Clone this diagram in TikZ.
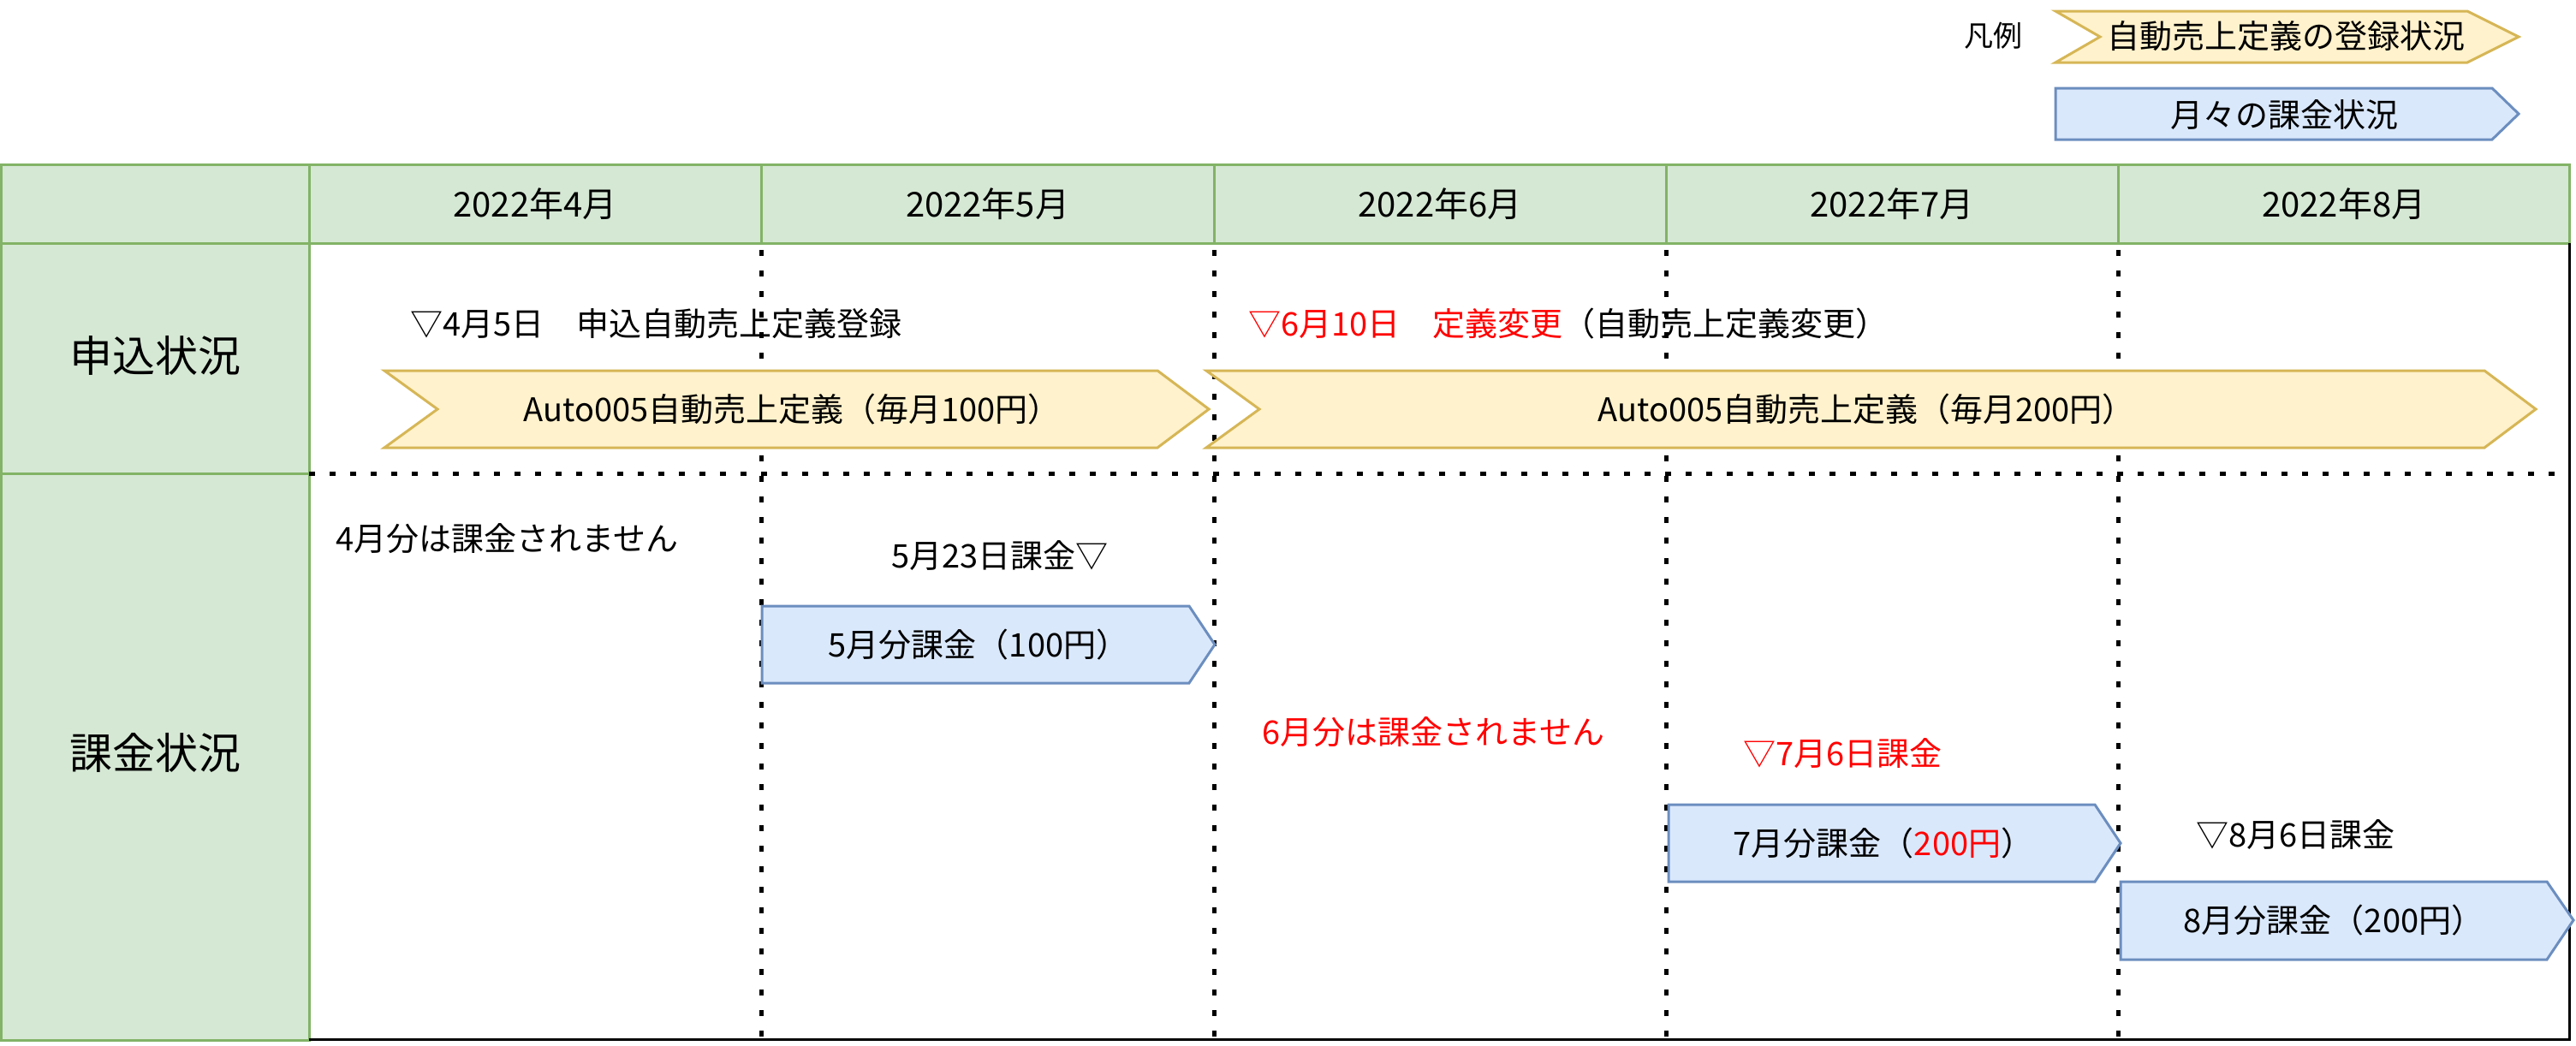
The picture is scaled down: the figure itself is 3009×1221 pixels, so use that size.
\documentclass[tikz,border=0pt]{standalone}
\usepackage{fontspec}
\newfontfamily\jp{Noto Sans CJK JP}
\definecolor{gfill}{HTML}{D5E8D4}
\definecolor{gline}{HTML}{82B366}
\definecolor{yfill}{HTML}{FFF2CC}
\definecolor{yline}{HTML}{D6B656}
\definecolor{bfill}{HTML}{DAE8FC}
\definecolor{bline}{HTML}{6C8EBF}
\definecolor{myred}{HTML}{FF0000}
\begin{document}
\begin{tikzpicture}[x=1pt,y=-1pt,
  cell/.style={draw=gline, fill=gfill, line width=3pt},
  yarrow/.style={draw=yline, fill=yfill, line width=3pt, line join=miter},
  barrow/.style={draw=bline, fill=bfill, line width=3pt, line join=miter},
  dotline/.style={line width=5pt, dash pattern=on 7pt off 17pt},
  txt/.style={font=\jp\fontsize{38}{46}\selectfont, inner sep=0pt},
  hdr/.style={font=\jp\fontsize{40}{48}\selectfont, inner sep=0pt},
  lbl/.style={font=\jp\fontsize{50}{60}\selectfont, inner sep=0pt},
]
\useasboundingbox (0,0) rectangle (3009,1221);
\fill[white] (0,0) rectangle (3009,1221);

% left column
\draw[cell] (1.5,284) rectangle (361,553);
\draw[cell] (1.5,553) rectangle (361,1215);
\node[lbl] (r1) at (181,415) {申込状況};
\node[lbl] (r2) at (181,879) {課金状況};

% header
\draw[cell] (1.5,192) rectangle (361,284);
\foreach \a/\b/\m [count=\i] in {361/889/4, 889/1418/5, 1418/1946/6, 1946/2474/7, 2474/3001.5/8} {
  \draw[cell] (\a,192) rectangle (\b,284);
  \node[hdr] (h\i) at ({(\a+\b)/2},238) {2022年\m{}月};
}

% dotted grid
\foreach \x in {889,1418,1946,2474} {
  \draw[dotline] (\x,292) -- (\x,1212);
}
\draw[dotline] (361,553) -- (3001,553);

% frame
\draw[line width=3pt] (361,1214) -- (3001.5,1214) -- (3001.5,284);

% legend
\node[txt, font=\jp\fontsize{34}{40}\selectfont] (lg) at (2328,42) {凡例};
\draw[yarrow] (2401,13) -- (2882,13) -- (2942,43) -- (2882,73) -- (2401,73) -- (2453,43) -- cycle;
\node[txt] (lg1) at (2670,42) {自動売上定義の登録状況};
\draw[barrow] (2401,103) -- (2911,103) -- (2942,133) -- (2911,163) -- (2401,163) -- cycle;
\node[txt] (lg2) at (2668,134) {月々の課金状況};

% 申込状況 row
\node[txt, anchor=west] (t1) at (479,378) {▽4月5日　申込自動売上定義登録};
\node[txt, anchor=west] (t2) at (1458,378) {\textcolor{myred}{▽6月10日　定義変更}（自動売上定義変更）};
\draw[yarrow] (449,433) -- (1352,433) -- (1412,478) -- (1352,523) -- (449,523) -- (511,478) -- cycle;
\node[txt] (a1) at (925,478) {Auto005自動売上定義（毎月100円）};
\draw[yarrow] (1409,433) -- (2902,433) -- (2962,478) -- (2902,523) -- (1409,523) -- (1471,478) -- cycle;
\node[txt] (a2) at (2180,478) {Auto005自動売上定義（毎月200円）};

% 課金状況 row
\node[txt, anchor=west] (n4) at (392,629) {4月分は課金されません};
\node[txt] (d5) at (1168,649) {5月23日課金▽};
\draw[barrow] (890,708) -- (1389,708) -- (1419,753) -- (1389,798) -- (890,798) -- cycle;
\node[txt] (b5) at (1143,753) {5月分課金（100円）};
\node[txt, anchor=west, text=myred] (n6) at (1474,855) {6月分は課金されません};
\node[txt, anchor=west, text=myred] (d7) at (2036,880) {▽7月6日課金};
\draw[barrow] (1949,940) -- (2447,940) -- (2477,985) -- (2447,1030) -- (1949,1030) -- cycle;
\node[txt] (b7) at (2200,985) {7月分課金（\textcolor{myred}{200円}）};
\node[txt, anchor=west] (d8) at (2565,975) {▽8月6日課金};
\draw[barrow] (2477,1030) -- (2975,1030) -- (3006,1075) -- (2975,1121) -- (2477,1121) -- cycle;
\node[txt] (b8) at (2726,1075) {8月分課金（200円）};
\end{tikzpicture}
\end{document}
